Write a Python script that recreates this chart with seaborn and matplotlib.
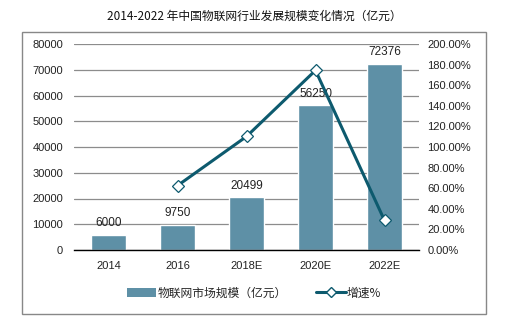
import numpy as np
import pandas as pd
import matplotlib
matplotlib.use("Agg")
import matplotlib.pyplot as plt
import seaborn as sns
from matplotlib.patches import Rectangle, Patch
from matplotlib.lines import Line2D
from matplotlib.ticker import FuncFormatter

categories = ["2014", "2016", "2018E", "2020E", "2022E"]
market_size = [6000, 9750, 20499, 56250, 72376]
growth_pct = [np.nan, 62.5, 110.2, 174.4, 28.7]
title = "2014-2022 年中国物联网行业发展规模变化情况（亿元）"
bar_label_name = "物联网市场规模（亿元）"
line_label_name = "增速%"

sns.set_style("white")
plt.rcParams['font.family'] = ['Liberation Sans', 'Noto Sans CJK SC', 'DejaVu Sans']

bar_color = "#5E90A6"
line_color = "#0D5A6E"

df = pd.DataFrame({"cat": categories, "size": market_size, "growth": growth_pct})
df["pos"] = np.arange(len(df))

fig = plt.figure(figsize=(5.08, 3.29), dpi=100)
ax = fig.add_axes([74/508, 1-250/329, (419-74)/508, (250-44)/329])

sns.barplot(data=df, x="cat", y="size", color=bar_color, width=0.5,
            saturation=1, ax=ax, zorder=2)
ax.set_ylim(0, 80000)
ax.set_yticks(np.arange(0, 80001, 10000))
ax.set_xlim(-0.5, len(categories) - 0.5)
ax.grid(axis="y", color="#8c8c8c", linewidth=0.9)
ax.set_axisbelow(True)
for s in ["left", "right", "top"]:
    ax.spines[s].set_visible(False)
ax.spines["bottom"].set_color("black")
ax.spines["bottom"].set_linewidth(1)
ax.set_xlabel("")
ax.set_ylabel("")
ax.tick_params(axis="both", labelsize=8, length=0, colors="#222222")
ax.tick_params(axis="y", pad=8)
ax.tick_params(axis="x", pad=8)
ax.bar_label(ax.containers[0], labels=[str(v) for v in market_size],
             padding=4, fontsize=8.5, color="#222222")

ax2 = ax.twinx()
d2 = df.dropna(subset=["growth"])
sns.lineplot(data=d2, x="pos", y="growth", ax=ax2, color=line_color,
             linewidth=2.2, marker="D", markersize=6.5,
             markerfacecolor="white", markeredgecolor=line_color,
             markeredgewidth=0.9, zorder=3)
ax2.set_ylim(0, 200)
ax2.set_yticks(np.arange(0, 201, 20))
ax2.yaxis.set_major_formatter(FuncFormatter(lambda v, p: f"{v:.2f}%"))
for s in ["left", "right", "top", "bottom"]:
    ax2.spines[s].set_visible(False)
ax2.set_xlabel("")
ax2.set_ylabel("")
ax2.tick_params(axis="y", labelsize=8, length=0, pad=6, colors="#222222")
ax2.set_xlim(-0.5, len(categories) - 0.5)

fig.text(0.5, 1 - 16/329, title, ha="center", va="center", fontsize=8.5,
         family=['Noto Sans CJK SC', 'DejaVu Sans'], color="#111111")

fig.patches.append(Rectangle((22/508, 1-314/329), (486-22)/508, (314-32)/329,
                             transform=fig.transFigure, fill=False,
                             edgecolor="#888888", linewidth=1))

handles = [Patch(facecolor=bar_color, edgecolor="none"),
           Line2D([0], [0], color=line_color, linewidth=2.2, marker="D",
                  markersize=5.5, markerfacecolor="white",
                  markeredgecolor=line_color)]
fig.legend(handles, [bar_label_name, line_label_name], loc="center",
           bbox_to_anchor=(0.5, 1 - 293/329), ncol=2, frameon=False,
           fontsize=8.5, handlelength=2.5, handleheight=0.7,
           handletextpad=0.1, columnspacing=2.5,
           prop={'family': ['Noto Sans CJK SC', 'DejaVu Sans'], 'size': 8.5})

fig.savefig("out.png", dpi=100)
